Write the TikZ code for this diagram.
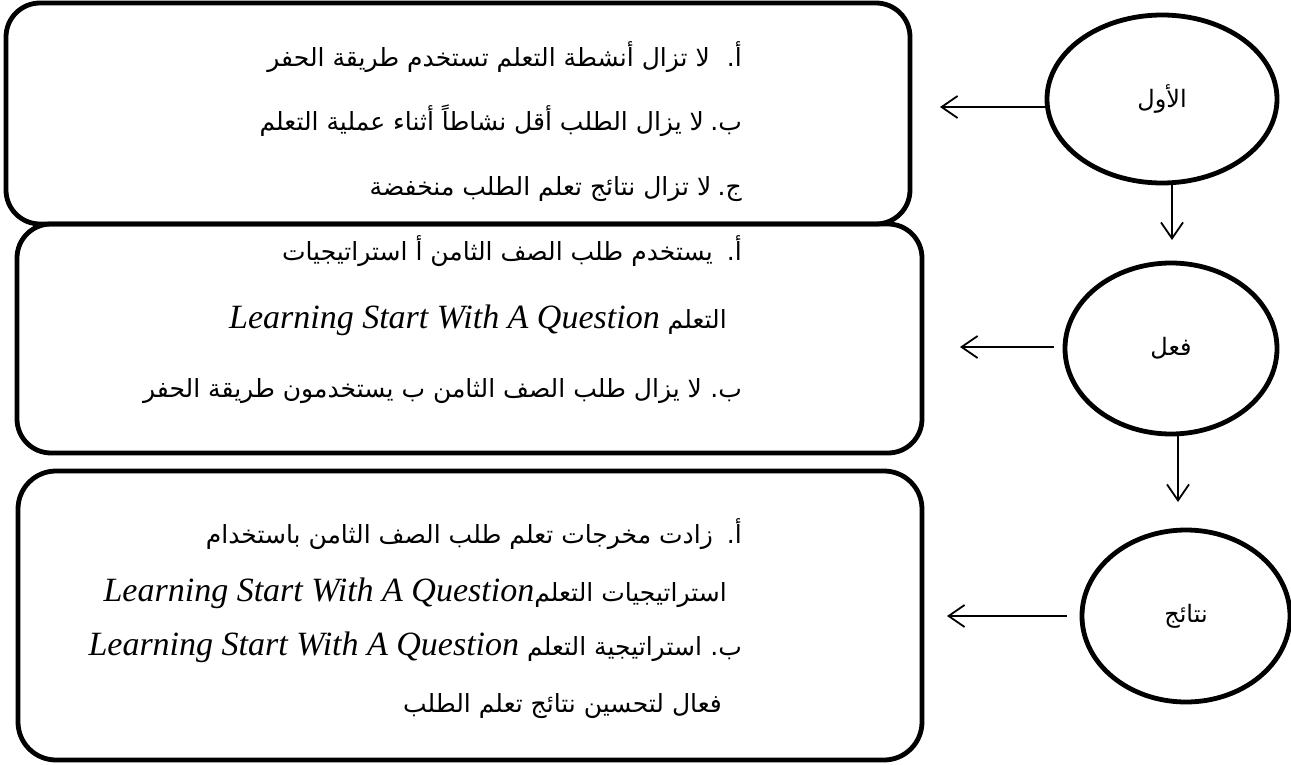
\documentclass[tikz,border=0pt]{standalone}
\usepackage{fontspec}
\setmainfont{Liberation Serif}
\newfontfamily\arabicfont[Script=Arabic]{DejaVu Sans}
\TeXXeTstate=1
\usetikzlibrary{arrows.meta,shapes.geometric}
\newcommand{\lat}[1]{\beginL{\rmfamily\itshape\fontsize{34}{38}\selectfont #1}\endL}
\begin{document}
\begin{tikzpicture}[x=1pt,y=-1pt,
  boxstyle/.style={draw, line width=4.8pt, rounded corners=34pt, inner sep=0pt},
  ell/.style={draw, ellipse, line width=4.8pt, inner sep=0pt,
    font=\arabicfont\fontsize{24}{28}\selectfont},
  arr/.style={line width=1.8pt, -{Straight Barb[length=16pt,width=22pt,line width=1.8pt]}},
  ar/.style={font=\arabicfont\fontsize{25}{30}\selectfont, inner sep=0pt, anchor=base east},
]
\useasboundingbox (0,0) rectangle (1291,765);

% boxes
\node[boxstyle, minimum width=904pt, minimum height=221pt] (b1) at (458,113.5) {};
\node[boxstyle, minimum width=905pt, minimum height=229pt] (b2) at (469.5,338.5) {};
\node[boxstyle, rounded corners=38pt, minimum width=904pt, minimum height=289pt] (b3) at (470,615.5) {};

% ellipses
\node[ell, minimum width=230pt, minimum height=168pt] (e1) at (1162,99) {\beginR الأول\endR};
\node[ell, minimum width=212pt, minimum height=171pt] (e2) at (1171,348.5) {\beginR فعل\endR};
\node[ell, minimum width=208pt, minimum height=172pt] (e3) at (1186,616) {\beginR نتائج\endR};

% box 1 text
\node[ar] (b1la) at (742,67) {\beginR أ.\endR};
\node[ar] (b1ta) at (710,67) {\beginR لا تزال أنشطة التعلم تستخدم طريقة الحفر\endR};
\node[ar] (b1lb) at (742,131) {\beginR ب.\endR};
\node[ar] (b1tb) at ([xshift=-6pt]b1lb.base west) {\beginR لا يزال الطلب أقل نشاطاً أثناء عملية التعلم\endR};
\node[ar] (b1lc) at (742,196) {\beginR ج.\endR};
\node[ar] (b1tc) at ([xshift=-6pt]b1lc.base west) {\beginR لا تزال نتائج تعلم الطلب منخفضة\endR};

% box 2 text
\node[ar] (b2la) at (742,260) {\beginR أ.\endR};
\node[ar] (b2ta) at (713,260) {\beginR يستخدم طلب الصف الثامن أ استراتيجيات\endR};
\node[ar] (b2tb) at (727,328) {\beginR التعلم \lat{Learning Start With A Question}\endR};
\node[ar] (b2lc) at (742,397) {\beginR ب.\endR};
\node[ar] (b2tc) at ([xshift=-8pt]b2lc.base west) {\beginR لا يزال طلب الصف الثامن ب يستخدمون طريقة الحفر\endR};

% box 3 text
\node[ar] (b3la) at (742,543) {\beginR أ.\endR};
\node[ar] (b3ta) at (713,543) {\beginR زادت مخرجات تعلم طلب الصف الثامن باستخدام\endR};
\node[ar] (b3tb) at (727,601) {\beginR استراتيجيات التعلم\lat{Learning Start With A Question}\endR};
\node[ar] (b3lc) at (742,655) {\beginR ب.\endR};
\node[ar] (b3tc) at ([xshift=-8pt]b3lc.base west) {\beginR استراتيجية التعلم \lat{Learning Start With A Question}\endR};
\node[ar] (b3td) at (722,712) {\beginR فعال لتحسين نتائج تعلم الطلب\endR};

% arrows
\coordinate (t1) at (940,107);
\coordinate (t2) at (960,347);
\coordinate (t3) at (947,616);
\coordinate (d1) at (1172,240);
\coordinate (d2) at (1178,502);
\draw[arr] (e1.west |- t1) -- (t1);
\draw[arr, shorten <=9pt] (e2.west |- t2) -- (t2);
\draw[arr, shorten <=13pt] (e3.west |- t3) -- (t3);
\draw[arr] (e1.south -| d1) -- (d1);
\draw[arr] (e2.south -| d2) -- (d2);
\end{tikzpicture}
\end{document}
